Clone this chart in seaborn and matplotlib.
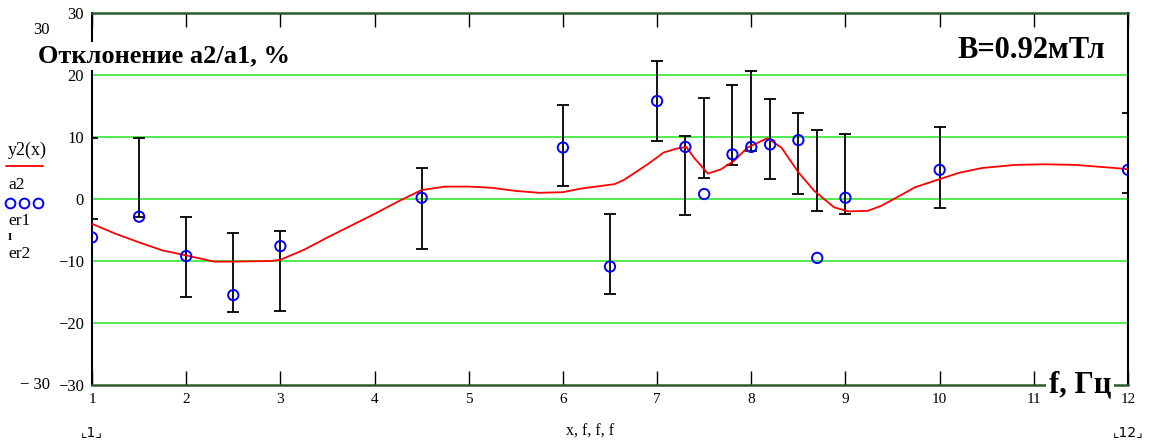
import numpy as np
import pandas as pd
import seaborn as sns
import matplotlib.pyplot as plt
from matplotlib.lines import Line2D

# ---

# DATA

f_pts = [1, 1.5, 2, 2.5, 3, 4.5, 6, 6.5, 7, 7.3, 7.5, 7.8, 8, 8.2, 8.5, 8.7, 9, 10, 12]
a2 = [-6.2, -2.85, -9.2, -15.5, -7.6, 0.2, 8.3, -10.9, 15.8, 8.4, 0.8, 7.2, 8.4, 8.8, 9.5, -9.5, 0.2, 4.7, 4.7]

# error bars: lower / upper ends
f_err = [1, 1.5, 2, 2.5, 3, 4.5, 6, 6.5, 7, 7.3, 7.5, 7.8, 8, 8.2, 8.5, 8.7, 9, 10, 12]
er_lo = [-3.3, -2.85, -15.8, -18.3, -18.1, -8.0, 2.1, -15.4, 9.35, -2.6, 3.4, 5.5, 7.7, 3.2, 0.85, -1.9, -2.4, -1.45, 0.9]
er_hi = [9.8, 9.8, -2.9, -5.5, -5.2, 5.0, 15.2, -2.4, 22.2, 10.2, 16.3, 18.4, 20.6, 16.1, 13.8, 11.2, 10.5, 11.6, 13.8]

# fitted curve y2(x)
curve_x = [1, 1.25, 1.5, 1.75, 2, 2.3, 2.5, 2.9, 3, 3.25, 3.5, 3.75, 4, 4.25, 4.5, 4.75,
           5, 5.25, 5.5, 5.75, 6, 6.2, 6.55, 6.65, 6.9, 7.07, 7.2, 7.31, 7.39, 7.54,
           7.68, 7.82, 7.96, 8.17, 8.32, 8.5, 8.67, 8.88, 9.03, 9.24, 9.38, 9.55, 9.74,
           10, 10.2, 10.45, 10.8, 11.1, 11.44, 11.86, 12]
curve_y = [-4.0, -5.6, -7.0, -8.3, -9.1, -10.1, -10.1, -10.0, -9.8, -8.2, -6.2, -4.3, -2.4, -0.4, 1.45, 2.0,
           2.0, 1.8, 1.3, 1.0, 1.1, 1.7, 2.4, 3.1, 5.6, 7.5, 8.1, 8.4, 6.7, 4.1,
           4.8, 6.2, 8.3, 9.8, 8.3, 4.3, 1.3, -1.35, -2.0, -1.9, -1.1, 0.3, 1.9,
           3.2, 4.2, 5.0, 5.5, 5.6, 5.5, 5.0, 4.8]

x_ticks = list(range(1, 13))
y_ticks = [30, 20, 10, 0, -10, -20, -30]
y_labels = ['30', '20', '10', '0', '\u221210', '\u221220', '\u221230']

# ---

# FIGURE

sns.set_style("white")
plt.rcParams['font.family'] = ['Liberation Serif', 'DejaVu Serif', 'DejaVu Sans']
plt.rcParams['text.color'] = 'black'
plt.rcParams['xtick.labelcolor'] = 'black'
plt.rcParams['ytick.labelcolor'] = 'black'

W, H = 1155, 441
fig = plt.figure(figsize=(W / 100, H / 100), dpi=100)
ax = fig.add_axes([92 / W, (H - 385) / H, (1128 - 92) / W, (385 - 13) / H])

for g in [20, 10, 0, -10, -20]:
    ax.axhline(g, color='#22e622', lw=1.1, zorder=1)

ax.errorbar(f_err, er_lo, yerr=[np.zeros(len(er_lo)), np.array(er_hi) - np.array(er_lo)],
            fmt='none', ecolor='black', elinewidth=1.3, capsize=4, capthick=1.3, zorder=3)

curve = pd.DataFrame({'x': curve_x, 'y': curve_y})
sns.lineplot(data=curve, x='x', y='y', color='red', lw=1.3, ax=ax, zorder=4, estimator=None, sort=False)

pts = pd.DataFrame({'f': f_pts, 'a2': a2})
sns.scatterplot(data=pts, x='f', y='a2', ax=ax, s=55, facecolor='none', edgecolor='blue',
                linewidth=1.4, zorder=5)

ax.set_xlim(1, 12)
ax.set_ylim(-30, 30)
ax.set_xlabel('')
ax.set_ylabel('')
ax.set_xticks(x_ticks)
ax.set_xticklabels([str(t) for t in x_ticks], fontsize=11, color='black')
ax.set_yticks(y_ticks)
ax.set_yticklabels(y_labels, fontsize=12, color='black')
ax.tick_params(axis='x', direction='in', length=10, width=1, top=True, bottom=True, pad=6, color='black')
ax.tick_params(axis='y', length=0, pad=6)

for s in ['top', 'bottom']:
    ax.spines[s].set_color('#2d5a2d')
    ax.spines[s].set_linewidth(1.8)
for s in ['left', 'right']:
    ax.spines[s].set_color('black')
    ax.spines[s].set_linewidth(1.5)


def px(x, y):
    return x / W, 1 - y / H


white = dict(facecolor='white', edgecolor='none', pad=2)

fig.text(*px(38, 56), 'Отклонение a2/a1, %', fontsize=19, fontweight='bold', va='center', ha='left', bbox=white)
fig.text(*px(1105, 50), 'B=0.92мТл', fontsize=22, fontweight='bold', va='center', ha='right', bbox=white)
fig.text(*px(1111, 385), 'f, Гц', fontsize=22, fontweight='bold', va='center', ha='right', bbox=white)

fig.text(*px(33, 30), '30', fontsize=12, ha='left', va='center')
fig.text(*px(20, 385), '\u2212 30', fontsize=12, ha='left', va='center')

fig.text(*px(92, 432), '\u231e1\u231f', fontsize=10, ha='center', va='center',
         family=['DejaVu Sans'])
fig.text(*px(1128, 432), '\u231e12\u231f', fontsize=10, ha='center', va='center',
         family=['DejaVu Sans'])
fig.text(*px(590, 432), 'x, f, f, f', fontsize=11.5, ha='center', va='center')

# legend on the left
fig.text(*px(8, 150), 'y2(x)', fontsize=13, ha='left', va='center')
fig.add_artist(Line2D([6 / W, 43 / W], [1 - 166 / H, 1 - 166 / H], color='red', lw=1.3, transform=fig.transFigure))
fig.text(*px(8, 185), 'a2', fontsize=12.5, ha='left', va='center')
fig.add_artist(Line2D([10 / W, 24 / W, 38 / W], [1 - 203 / H] * 3, ls='none', marker='o', ms=7,
                      mfc='none', mec='blue', mew=1.4, transform=fig.transFigure))
fig.text(*px(8, 221), 'er1', fontsize=12.5, ha='left', va='center')
fig.text(*px(8, 238), 'I', fontsize=8, fontweight='bold', ha='left', va='center')
fig.text(*px(8, 254), 'er2', fontsize=12.5, ha='left', va='center')

fig.savefig('out.png', dpi=100)
